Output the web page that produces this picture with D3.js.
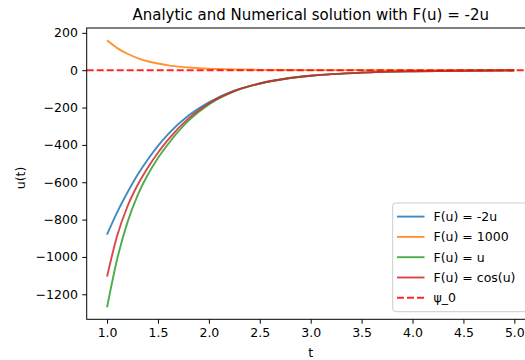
<!DOCTYPE html>
<html>
<head>
<meta charset="utf-8">
<script src="https://cdn.jsdelivr.net/npm/d3@7"></script>
<style>
  body { margin: 0; background: #fff; }
  svg { font-family: "DejaVu Sans", sans-serif; }
</style>
</head>
<body>
<div id="chart"></div>
<script>
// t samples
var tVals = [1, 1.1, 1.2, 1.3, 1.4, 1.5, 1.6, 1.8, 2.0, 2.25, 2.5, 2.75, 3, 3.5, 4, 4.5, 5]
var uNeg2u = [-880, -760, -655, -560, -478, -405, -342, -243, -172, -110, -71, -46, -30, -13, -6, -3, -1]
var u1000 = [160, 118, 88, 65, 48, 36, 26, 14.5, 8, 4, 2, 1, 0.5, 0.2, 0, 0, 0]
var uU = [-1270, -1010, -815, -670, -560, -470, -395, -270, -183, -113, -72, -46, -30, -13, -6, -3, -1]
var uCos = [-1105, -885, -730, -615, -522, -442, -372, -258, -178, -111, -71, -46, -30, -13, -6, -3, -1]
var seriesNames = ["F(u) = -2u", "F(u) = 1000", "F(u) = u", "F(u) = cos(u)"]
var seriesColors = ["#1f77b4", "#ff7f0e", "#2ca02c", "#d62728"]
var xTicks = [1.0, 1.5, 2.0, 2.5, 3.0, 3.5, 4.0, 4.5, 5.0]
var yTicks = [200, 0, -200, -400, -600, -800, -1000, -1200]

var W = 525, H = 360
var pLeft = 86.7, pRight = 534.7, pTop = 28, pBottom = 319.3
var fs = 12.5, lw = 1.9

var svg = d3.select("#chart").append("svg")
    .attr("width", W).attr("height", H)

var x = d3.scaleLinear().domain([0.8, 5.2]).range([pLeft, pRight])
var y = d3.scaleLinear().domain([-1334, 226]).range([pBottom, pTop])

svg.append("defs").append("clipPath").attr("id", "clip")
    .append("rect").attr("x", pLeft).attr("y", pTop)
    .attr("width", pRight - pLeft).attr("height", pBottom - pTop)

var plot = svg.append("g").attr("clip-path", "url(#clip)")

var allSeries = [uNeg2u, u1000, uU, uCos]
var line = d3.line()
    .x(function (d, i) { return x(tVals[i]) })
    .y(function (d) { return y(d) })
    .curve(d3.curveMonotoneX)

allSeries.forEach(function (s, i) {
    plot.append("path")
        .attr("d", line(s))
        .attr("fill", "none")
        .attr("stroke", seriesColors[i])
        .attr("stroke-opacity", 0.85)
        .attr("stroke-width", lw)
})

// psi_0 line at zero
plot.append("line")
    .attr("x1", pLeft).attr("x2", pRight)
    .attr("y1", y(0)).attr("y2", y(0))
    .attr("stroke", "#ff0000")
    .attr("stroke-opacity", 0.85)
    .attr("stroke-width", lw)
    .attr("stroke-dasharray", "7,3")

// axes
var xAxis = svg.append("g")
    .attr("transform", "translate(0," + pBottom + ")")
    .call(d3.axisBottom(x).tickValues(xTicks).tickFormat(d3.format(".1f")).tickSizeInner(4.4).tickSizeOuter(0).tickPadding(4.6))
var yAxis = svg.append("g")
    .attr("transform", "translate(" + pLeft + ",0)")
    .call(d3.axisLeft(y).tickValues(yTicks).tickFormat(function (d) { return d < 0 ? "\u2212" + Math.abs(d) : d }).tickSizeInner(4.4).tickSizeOuter(0).tickPadding(4.4))

;[xAxis, yAxis].forEach(function (a) {
    a.select(".domain").remove()
    a.selectAll(".tick line").attr("stroke", "#000").attr("stroke-width", 1)
    a.selectAll(".tick text").attr("font-size", fs).attr("fill", "#000")
        .attr("font-family", "DejaVu Sans")
})

// spines
svg.append("rect")
    .attr("x", pLeft).attr("y", pTop)
    .attr("width", pRight - pLeft).attr("height", pBottom - pTop)
    .attr("fill", "none").attr("stroke", "#000").attr("stroke-width", 1)

// title and labels
svg.append("text")
    .attr("x", (pLeft + pRight) / 2).attr("y", 19.5)
    .attr("text-anchor", "middle").attr("font-size", 15)
    .text("Analytic and Numerical solution with F(u) = -2u")
svg.append("text")
    .attr("x", (pLeft + pRight) / 2).attr("y", 356.5)
    .attr("text-anchor", "middle").attr("font-size", fs)
    .text("t")
svg.append("text")
    .attr("transform", "translate(25,178) rotate(-90)")
    .attr("text-anchor", "middle").attr("font-size", fs)
    .text("u(t)")

// legend
var lx = 392.7, ly = 203, lW = 136, lH = 108.7
var legend = svg.append("g")
legend.append("rect")
    .attr("x", lx).attr("y", ly).attr("width", lW).attr("height", lH)
    .attr("rx", 3).attr("fill", "#fff").attr("fill-opacity", 0.8)
    .attr("stroke", "#cccccc").attr("stroke-width", 1)

var legNames = seriesNames.concat(["\u03c8_0"])
var legColors = seriesColors.concat(["#ff0000"])
legNames.forEach(function (n, i) {
    var yy = 216.6 + i * 20.3
    legend.append("line")
        .attr("x1", 397).attr("x2", 424.5)
        .attr("y1", yy).attr("y2", yy)
        .attr("stroke", legColors[i])
        .attr("stroke-opacity", 0.85)
        .attr("stroke-width", lw)
        .attr("stroke-dasharray", i == 4 ? "7,3" : null)
    legend.append("text")
        .attr("x", 433.5).attr("y", yy + 4.5)
        .attr("font-size", fs)
        .text(n)
})
</script>
</body>
</html>
